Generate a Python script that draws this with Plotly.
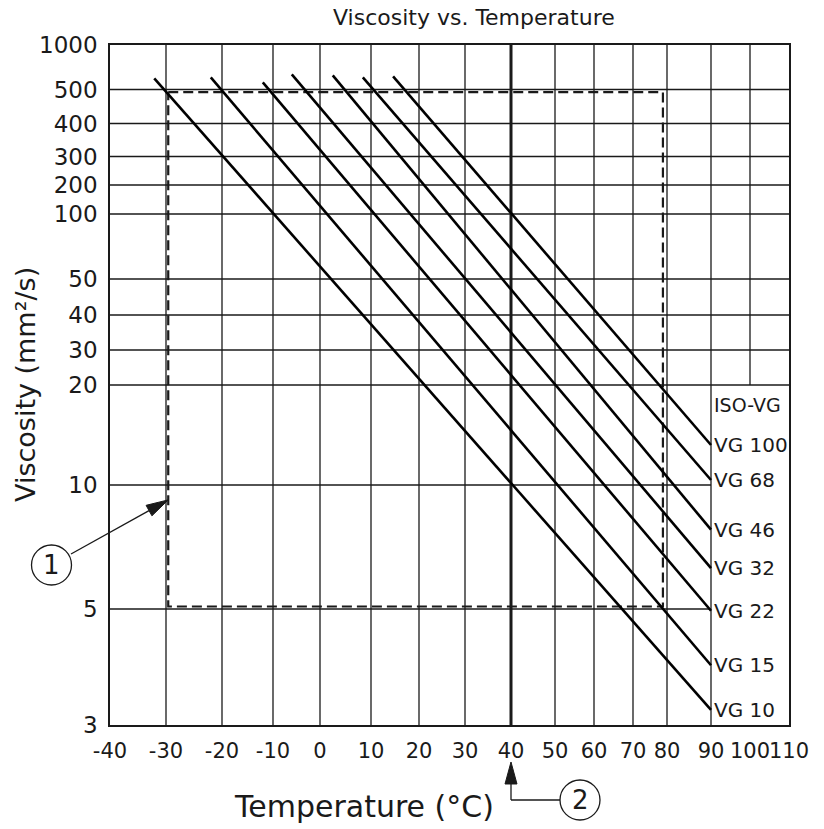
import numpy as np
import plotly.graph_objects as go

# ---------------- data ----------------
TEMP_TICKS = [-40, -30, -20, -10, 0, 10, 20, 30, 40, 50, 60, 70, 80, 90, 100, 110]
# the printed grid is non-uniform: position of each temperature tick on the chart scale
TEMP_GRID = [0, 56, 112, 163, 210, 261, 309, 355, 401, 445, 484, 523, 557, 601, 640, 679]
VISC_TICKS = [3, 5, 10, 20, 30, 40, 50, 100, 200, 300, 400, 500, 1000]
VISC_GRID = [0, 116, 240, 340, 375, 410, 446, 511, 540, 568.5, 601.5, 635.5, 680]

GRADES = ["VG 10", "VG 15", "VG 22", "VG 32", "VG 46", "VG 68", "VG 100"]
START_TEMP = [-32.1, -22.0, -12.0, -6.0, 2.5, 8.4, 14.6]
START_VISC = [625, 636, 580, 670, 659, 636, 648]
END_TEMP = [90, 90, 90, 90, 90, 90, 90]
END_VISC = [3.26, 4.03, 4.97, 6.65, 8.2, 10.5, 14.0]

BOX_TEMP = [-29.6, 78.8]
BOX_VISC = [5.1, 492]

MARK1_TEMP, MARK1_VISC = -29.6, 9.4   # arrow (1) points at the dashed limit
MARK2_TEMP = 40                        # arrow (2) points at 40 °C

# ---------------- scale helpers ----------------
def tx(t):
    return float(np.interp(t, TEMP_TICKS, TEMP_GRID))

def vy(v):
    return float(np.interp(v, VISC_TICKS, VISC_GRID))

W, H = 824, 829
ML, MR, MT, MB = 110, 35, 45, 104
PW, PH = W - ML - MR, H - MT - MB

def px_x(t):  # temperature -> page pixel
    return ML + tx(t) / TEMP_GRID[-1] * PW

def px_y(v):
    return MT + PH - vy(v) / VISC_GRID[-1] * PH

def pap_x(p):
    return (p - ML) / PW

def pap_y(p):
    return (MT + PH - p) / PH

FONT = "DejaVu Sans"
INK = "#1a1a1a"

fig = go.Figure()

# ---------------- grid ----------------
shapes = []
for t in TEMP_TICKS[1:-1]:
    y_lo = vy(20) if t == 100 else vy(VISC_TICKS[0])
    shapes.append(dict(type="line", xref="x", yref="y", x0=tx(t), x1=tx(t),
                       y0=y_lo, y1=vy(VISC_TICKS[-1]),
                       line=dict(color=INK, width=3 if t == 40 else 1.3), layer="below"))
for v in VISC_TICKS[1:-1]:
    x_hi = tx(90) if v < 20 else tx(TEMP_TICKS[-1])
    shapes.append(dict(type="line", xref="x", yref="y", x0=tx(TEMP_TICKS[0]), x1=x_hi,
                       y0=vy(v), y1=vy(v), line=dict(color=INK, width=1.3), layer="below"))

# ---------------- dashed operating box ----------------
bx = [BOX_TEMP[0], BOX_TEMP[1], BOX_TEMP[1], BOX_TEMP[0], BOX_TEMP[0]]
by = [BOX_VISC[1], BOX_VISC[1], BOX_VISC[0], BOX_VISC[0], BOX_VISC[1]]
fig.add_trace(go.Scatter(x=[tx(t) for t in bx], y=[vy(v) for v in by], mode="lines",
                         line=dict(color=INK, width=2.2, dash="10px,5px"), hoverinfo="skip"))

# ---------------- grade lines ----------------
for name, t0, v0, t1, v1 in zip(GRADES, START_TEMP, START_VISC, END_TEMP, END_VISC):
    fig.add_trace(go.Scatter(x=[tx(t0), tx(t1)], y=[vy(v0), vy(v1)], mode="lines",
                             name=name, line=dict(color="black", width=2.6)))

annotations = []
for name, t1, v1 in zip(GRADES, END_TEMP, END_VISC):
    annotations.append(dict(x=tx(t1), y=vy(v1), xref="x", yref="y", text=name,
                            showarrow=False, xanchor="left", yanchor="middle", xshift=1,
                            font=dict(family=FONT, size=20, color=INK)))
annotations.append(dict(x=tx(90), y=vy(18), xref="x", yref="y", text="ISO-VG",
                        showarrow=False, xanchor="left", yanchor="middle", xshift=1,
                        font=dict(family=FONT, size=19, color=INK)))

# ---------------- titles ----------------
annotations += [
    dict(x=pap_x(474), y=pap_y(18), xref="paper", yref="paper", text="Viscosity vs. Temperature",
         showarrow=False, xanchor="center", yanchor="middle", font=dict(family=FONT, size=22, color=INK)),
    dict(x=pap_x(364), y=pap_y(806), xref="paper", yref="paper", text="Temperature (°C)",
         showarrow=False, xanchor="center", yanchor="middle", font=dict(family=FONT, size=30, color=INK)),
    dict(x=pap_x(25), y=pap_y(385), xref="paper", yref="paper", text="Viscosity (mm²/s)",
         textangle=-90, showarrow=False, xanchor="center", yanchor="middle",
         font=dict(family=FONT, size=27, color=INK)),
]

# ---------------- callouts ----------------
def arrow_head(tip, tail, length=22, half=6):
    ux, uy = tail[0] - tip[0], tail[1] - tip[1]
    n = (ux ** 2 + uy ** 2) ** 0.5
    ux, uy = ux / n, uy / n
    bx_, by_ = tip[0] + length * ux, tip[1] + length * uy
    px_, py_ = uy, -ux
    pts = [tip, (bx_ + half * px_, by_ + half * py_), (bx_ - half * px_, by_ - half * py_)]
    path = "M " + " L ".join(f"{pap_x(a):.5f},{pap_y(b):.5f}" for a, b in pts) + " Z"
    return dict(type="path", xref="paper", yref="paper", path=path,
                fillcolor=INK, line=dict(color=INK, width=1)), (bx_, by_)

def circle(cx, cy, r=20):
    return dict(type="circle", xref="paper", yref="paper",
                x0=pap_x(cx - r), x1=pap_x(cx + r), y0=pap_y(cy + r), y1=pap_y(cy - r),
                line=dict(color=INK, width=1.3), fillcolor="rgba(0,0,0,0)")

def seg(p, q):
    return dict(type="line", xref="paper", yref="paper", x0=pap_x(p[0]), y0=pap_y(p[1]),
                x1=pap_x(q[0]), y1=pap_y(q[1]), line=dict(color=INK, width=1.3))

# callout 1
c1 = (51.5, 565)
tip1 = (px_x(MARK1_TEMP), px_y(MARK1_VISC))
tail1 = (71, 554)
head, base = arrow_head(tip1, tail1)
shapes += [circle(*c1), seg(tail1, base), head]
annotations.append(dict(x=pap_x(c1[0]), y=pap_y(c1[1]), xref="paper", yref="paper", text="1",
                        showarrow=False, xanchor="center", yanchor="middle",
                        font=dict(family=FONT, size=26, color=INK)))

# callout 2
c2 = (580, 800)
tip2 = (px_x(MARK2_TEMP), 762)
corner = (tip2[0], c2[1])
head, base = arrow_head(tip2, corner)
shapes += [circle(*c2), seg(base, corner), seg(corner, (c2[0] - 20, c2[1])), head]
annotations.append(dict(x=pap_x(c2[0]), y=pap_y(c2[1]), xref="paper", yref="paper", text="2",
                        showarrow=False, xanchor="center", yanchor="middle",
                        font=dict(family=FONT, size=26, color=INK)))

fig.update_layout(
    width=W, height=H, autosize=False,
    margin=dict(l=ML, r=MR, t=MT, b=MB, pad=0),
    paper_bgcolor="white", plot_bgcolor="white",
    showlegend=False,
    font=dict(family=FONT, color=INK),
    shapes=shapes, annotations=annotations,
    xaxis=dict(range=[TEMP_GRID[0], TEMP_GRID[-1]], tickmode="array",
               tickvals=[tx(t) for t in TEMP_TICKS], ticktext=[str(t) for t in TEMP_TICKS],
               tickangle=0, ticks="", showgrid=False, zeroline=False,
               showline=True, mirror=True, linecolor=INK, linewidth=1.6,
               tickfont=dict(family=FONT, size=21, color=INK), ticklabelstandoff=6),
    yaxis=dict(range=[VISC_GRID[0], VISC_GRID[-1]], tickmode="array",
               tickvals=[vy(v) for v in VISC_TICKS], ticktext=[str(v) for v in VISC_TICKS],
               ticks="", showgrid=False, zeroline=False,
               showline=True, mirror=True, linecolor=INK, linewidth=1.6,
               tickfont=dict(family=FONT, size=23, color=INK), ticklabelstandoff=6),
)

fig.write_html("out.html", config={"displayModeBar": False},
               post_script="document.body.style.margin='0px';document.body.style.overflow='hidden';")
